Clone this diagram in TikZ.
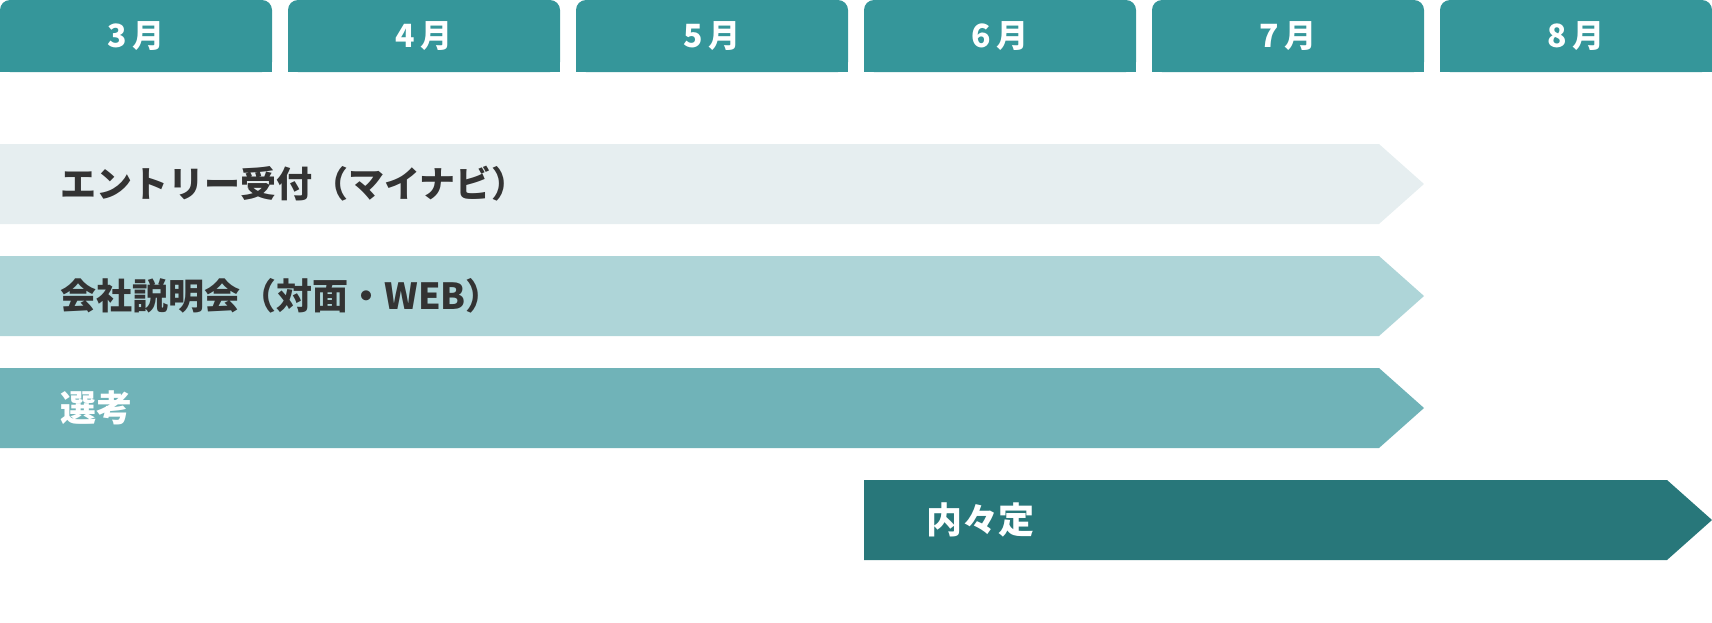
\documentclass[tikz,border=0pt]{standalone}
\usepackage{fontspec}
\setmainfont{Noto Sans CJK JP}
\definecolor{tabcol}{HTML}{35969A}
\definecolor{entrycol}{HTML}{E6EEF0}
\definecolor{seminarcol}{HTML}{AED5D8}
\definecolor{selectcol}{HTML}{70B3B8}
\definecolor{offercol}{HTML}{28777A}
\definecolor{textdark}{HTML}{333333}

\begin{document}
\begin{tikzpicture}[x=0.5pt,y=-0.5pt,
    monthtab/.style ={text=white, inner sep=0pt, font=\bfseries\fontsize{16}{16}\selectfont},
    barlabel/.style ={anchor=west, inner sep=0pt, text=textdark, font=\bfseries\fontsize{18}{18}\selectfont}]
   \useasboundingbox (0,0) rectangle (1712,622);
   % month tabs
   \foreach \m [count=\i from 0] in {3,4,5,6,7,8}{
     \fill[tabcol, rounded corners=5pt] (\i*288,0) rectangle ++(272,72);
     \fill[tabcol] (\i*288,36) rectangle ++(272,36);
     \node[monthtab] (m\m) at (\i*288+136,36) {\m\kern2.5pt 月};
   }
   % schedule bars
   \fill[entrycol] (0,144) -- (1379,144) -- (1424,184) -- (1379,224) -- (0,224) -- cycle;
   \node[barlabel] (entry) at (60,184) {エントリー受付（マイナビ）};
   \fill[seminarcol] (0,256) -- (1379,256) -- (1424,296) -- (1379,336) -- (0,336) -- cycle;
   \node[barlabel] (seminar) at (60,296) {会社説明会（対面・WEB）};
   \fill[selectcol] (0,368) -- (1379,368) -- (1424,408) -- (1379,448) -- (0,448) -- cycle;
   \node[barlabel, text=white] (select) at (60,408) {選考};
   \fill[offercol] (864,480) -- (1667,480) -- (1712,520) -- (1667,560) -- (864,560) -- cycle;
   \node[barlabel, text=white] (offer) at (926,520) {内々定};
 \end{tikzpicture}
\end{document}
